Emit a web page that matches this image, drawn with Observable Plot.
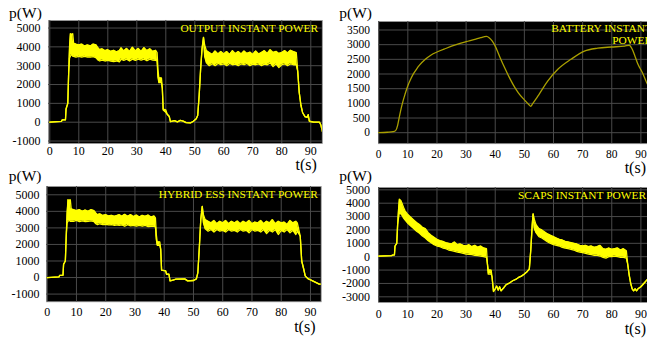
<!DOCTYPE html>
<html>
<head>
<meta charset="utf-8">
<script src="https://cdn.jsdelivr.net/npm/d3@7"></script>
<script src="https://cdn.jsdelivr.net/npm/@observablehq/plot@0.6"></script>
<style>
  html, body { margin: 0; padding: 0; background: #fff; }
  #root { position: relative; width: 647px; height: 339px; overflow: hidden; background: #fff; }
  #root svg { position: absolute; max-width: none; }
</style>
</head>
<body>
<div id="root"></div>
<script>
// ---------- data ----------
const xTicks = [0, 10, 20, 30, 40, 50, 60, 70, 80, 90];
const yTicksOut = [-1000, 0, 1000, 2000, 3000, 4000, 5000];
const yTicksBat = [0, 500, 1000, 1500, 2000, 2500, 3000, 3500];
const yTicksEss = [-1000, 0, 1000, 2000, 3000, 4000, 5000];
const yTicksCap = [-3000, -2000, -1000, 0, 1000, 2000, 3000, 4000, 5000];

const titleOut = "OUTPUT INSTANT POWER";
const titleBat = "BATTERY INSTANT\nPOWER";
const titleEss = "HYBRID ESS INSTANT POWER";
const titleCap = "SCAPS INSTANT POWER";
const yLabel = "p(W)";
const xLabel = "t(s)";

// OUTPUT INSTANT POWER : time, lower envelope, upper envelope
const outT  = [0,4,4.3,5.4,5.6,6.2,6.5,6.8,7.1,7.5,7.9,8.2,9,10,11,12,13,14,15,16,16.6,17.2,18,19,20,21,22,23,24,24.6,25.5,26.5,27.5,28.5,29.5,30.5,31.5,32.5,33.5,34.5,35.5,36.5,37,37.3,37.6,38.5,38.8,39.1,40,40.5,41.2,41.6,43,44,45,46,47,48.5,49.5,50.5,51,51.5,52,52.5,53,53.4,54,55,56,57,58,59,60,61,62,63,64,65,66,67,68,69,70,71,72,73,74,75,76,77,78,79,80,81,82,83,84,85,85.5,86,86.6,87.2,88,88.7,89.1,89.5,91,93,93.5,94];
const outLo = [0,40,120,130,700,1000,2600,3400,3500,3600,3500,3500,3450,3500,3450,3500,3450,3450,3480,3420,3300,3250,3300,3250,3280,3250,3220,3250,3200,3350,3280,3350,3250,3350,3280,3350,3300,3350,3260,3350,3300,3280,3250,2400,2100,2100,1800,650,520,420,300,30,80,20,100,60,-20,-40,50,180,350,1400,2800,3900,4500,3500,3150,3000,3100,3000,3120,3050,3100,3000,3120,3050,3080,3000,3100,3050,3120,3000,3080,3050,3100,3000,3080,3050,3150,2950,3100,2900,3050,3100,3000,3100,3050,3050,2700,1600,900,500,300,250,400,50,0,0,-150,-500];
const outHi = [0,40,120,130,700,1000,2600,4000,4700,4650,4700,4200,4150,4100,4150,4050,4100,4050,4150,4100,3950,3850,3900,3800,3850,3760,3820,3740,3800,3950,3780,3920,3760,3980,3780,3920,3760,3960,3800,3900,3760,3820,3700,2800,2350,2350,1800,700,650,420,300,30,80,20,100,60,-20,-40,50,180,350,1400,2800,3900,4500,4100,3800,3700,3600,3780,3620,3760,3620,3750,3600,3800,3640,3750,3620,3780,3650,3720,3600,3780,3620,3700,3800,3650,3850,3700,3760,3650,3700,3800,3680,3820,3750,3700,2700,1600,900,500,300,250,400,50,0,0,-150,-500];

// BATTERY INSTANT POWER : time, value
const batT = [0,3,5,5.8,6.5,7,8,9,10,11,12,13,14,16,18,20,23,26.6,30,33,35,37,38,39,40,41.5,43.2,45,46.6,48,50,51.5,52.2,52.8,54,55,58,61.5,66,70.6,75.2,79.8,84.4,86,87,88,89,90.5,92,94,96];
const batP = [0,15,35,70,250,500,950,1300,1600,1830,2020,2170,2300,2500,2650,2750,2870,3000,3100,3180,3240,3280,3230,3120,2950,2600,2220,1850,1560,1350,1120,960,900,980,1150,1300,1760,2160,2500,2780,2880,2920,2950,2980,2850,2600,2330,2050,1700,1350,1000];

// HYBRID ESS INSTANT POWER : time, lower envelope, upper envelope
const essT  = [0,4,4.3,5.4,5.6,6.2,6.5,6.8,7.1,7.5,7.9,8.2,9,10,11,12,13,14,15,16,16.6,17.2,18,19,20,21,22,23,24,24.6,25.5,26.5,27.5,28.5,29.5,30.5,31.5,32.5,33.5,34.5,35.5,36.5,37,37.3,37.6,38.5,38.8,39.1,40.5,40.8,41.6,42,43,44,47,48,50,51,51.5,52,52.5,53,53.4,54,55,56,57,58,59,60,61,62,63,64,65,66,67,68,69,70,71,72,73,74,75,76,77,78,79,80,81,82,83,84,85,85.5,86.5,87,87.7,88.2,89,89.5,93,94];
const essLo = [0,40,130,140,800,1000,2500,3300,3400,3450,3400,3400,3400,3450,3380,3420,3380,3400,3420,3380,3250,3200,3250,3200,3220,3180,3200,3150,3180,3150,3180,3100,3200,3120,3150,3100,3150,3100,3150,3080,3100,3100,3050,2300,1950,1950,1700,450,400,200,200,-200,-150,-100,-80,-200,-180,-80,300,1800,3500,4300,3300,2950,2800,2900,2750,2900,2800,2850,2750,2900,2800,2850,2750,2900,2800,2850,2700,2900,2800,2850,2750,2900,2650,2850,2750,2900,2600,2850,2750,2900,2700,2850,2600,2800,2500,1000,500,100,-50,-100,-400,-400,-700];
const essHi = [0,40,130,140,800,1000,2500,3900,4700,4650,4700,4150,4100,4050,4100,4000,4080,4000,4100,4050,3900,3800,3850,3750,3800,3720,3760,3700,3760,3800,3700,3820,3700,3800,3680,3780,3650,3760,3700,3780,3650,3720,3600,2600,2150,2150,1700,450,400,200,200,-200,-150,-100,-80,-200,-180,-80,300,1800,3500,4300,3800,3500,3400,3300,3450,3250,3400,3300,3450,3250,3400,3300,3420,3250,3400,3300,3450,3250,3350,3300,3450,3250,3400,3300,3500,3250,3400,3300,3350,3200,3450,3300,3400,3300,2500,1000,500,100,-50,-100,-400,-400,-700];

// SCAPS INSTANT POWER : time, lower envelope, upper envelope
const capT  = [0,4.5,4.7,5.4,5.6,6.2,6.5,6.8,7.1,7.6,8,8.5,9,10,11,12,13,14,15,16,17,18,19,20,21,22,23,24,25,26,27,28,29,30,31,32,33,34,35,36,37,37.3,37.6,38.6,38.9,39.4,40,40.5,41,41.5,42,43,43.7,45,46,47,48,49,50,51,51.7,52.2,52.7,53,53.4,54,55,56,57,58,59,60,61,62,63,64,65,66,67,68,69,70,71,72,73,74,75,76,77,78,79,80,81,82,83,84,85,85.5,86,86.5,87,87.5,88,88.5,89,90,91,92,93.5];
const capLo = [50,80,120,130,800,1000,2400,2900,3300,3200,3100,2900,2750,2500,2300,2100,1900,1750,1550,1400,1200,1050,900,800,750,650,600,500,450,400,350,300,250,200,180,150,100,80,50,0,-50,-500,-1300,-1300,-1500,-2600,-2400,-2200,-2500,-2250,-2550,-2300,-2100,-1950,-1800,-1700,-1550,-1450,-1300,-1100,-920,500,2400,3200,2100,1800,1500,1400,1250,1100,1000,900,850,800,700,650,600,550,500,400,350,300,250,200,150,100,100,50,-50,-100,0,0,50,0,-50,-50,-100,-600,-1400,-2000,-2400,-2550,-2400,-2550,-2400,-2250,-2000,-1750,-1500];
const capHi = [50,80,120,130,800,1000,2400,3500,4300,4200,4000,3700,3450,3150,2950,2750,2550,2400,2200,2100,1800,1600,1450,1300,1200,1150,1050,1000,950,1100,900,950,850,800,900,750,850,700,800,650,600,-500,-1000,-1000,-1500,-2600,-2400,-2200,-2500,-2250,-2550,-2300,-2100,-1950,-1800,-1700,-1550,-1450,-1300,-1100,-920,500,2400,3200,2800,2400,2100,2000,1850,1700,1600,1500,1400,1300,1250,1150,1100,1050,1000,950,850,800,850,750,800,700,750,850,600,550,650,550,600,650,500,600,450,-600,-1400,-2000,-2400,-2550,-2400,-2550,-2400,-2250,-2000,-1750,-1500];

// ---------- drawing ----------
const YELLOW = "#ffff00";
const FONT = "Liberation Serif, Times New Roman, serif";
const ML = 46, MR = 8, MT = 22, MB = 36;
const root = document.getElementById("root");

function panel(cfg) {
  const fw = cfg.R - cfg.L, fh = cfg.B - cfg.T;
  const kx = cfg.kx, ky = cfg.ky;
  const xd = [(cfg.L - cfg.x0) / kx, (cfg.R - cfg.x0) / kx];
  const yd = [(cfg.y0 - cfg.B) / ky, (cfg.y0 - cfg.T) / ky];
  const marks = [
    Plot.frame({fill: "black", stroke: "#9a9a9a", strokeWidth: 0.8}),
    Plot.gridX(xTicks, {stroke: "#4a4a4a", strokeOpacity: 1, strokeWidth: 1}),
    Plot.gridY(cfg.yticks, {stroke: "#4a4a4a", strokeOpacity: 1, strokeWidth: 1}),
    ...cfg.series,
    Plot.text([cfg.title], {frameAnchor: "top-right", textAnchor: "end", lineAnchor: "bottom",
      dx: cfg.titleDx, dy: cfg.titleDy, fill: YELLOW, fontSize: 11.4, fontFamily: FONT, lineHeight: 1.12}),
    Plot.text([yLabel], {frameAnchor: "top-left", textAnchor: "start", lineAnchor: "bottom",
      dx: cfg.pDx, dy: cfg.pDy, fill: "black", fontSize: 15.5, fontFamily: FONT}),
    Plot.text([xLabel], {frameAnchor: "bottom-right", textAnchor: "end", lineAnchor: "bottom",
      dx: cfg.tDx, dy: cfg.tDy, fill: "black", fontSize: 16, fontFamily: FONT})
  ];
  const svg = Plot.plot({
    width: fw + ML + MR,
    height: fh + MT + MB,
    marginLeft: ML, marginRight: MR, marginTop: MT, marginBottom: MB,
    style: {background: "transparent", fontFamily: FONT, fontSize: cfg.tickFont + "px", color: "black", overflow: "visible"},
    x: {domain: xd, ticks: xTicks, tickSize: 0, tickPadding: cfg.xpad, label: null, tickFormat: d => String(d)},
    y: {domain: yd, ticks: cfg.yticks, tickSize: 0, tickPadding: cfg.ypad, label: null, tickFormat: d => String(d)},
    marks
  });
  svg.style.left = (cfg.L - ML) + "px";
  svg.style.top = (cfg.T - MT) + "px";
  root.appendChild(svg);
}

function bandMarks(T, LO, HI) {
  const data = T.map((t, i) => ({t, lo: LO[i], hi: HI[i]}));
  return [
    Plot.areaY(data, {x: "t", y1: "lo", y2: "hi", fill: YELLOW, clip: true}),
    Plot.lineY(data, {x: "t", y: "lo", stroke: YELLOW, strokeWidth: 1.3, clip: true}),
    Plot.lineY(data, {x: "t", y: "hi", stroke: YELLOW, strokeWidth: 1.3, clip: true})
  ];
}

// OUTPUT (top-left)
panel({L: 47.7, R: 321.5, T: 20, B: 143, x0: 49, kx: 2.9, y0: 121.7, ky: 0.018833,
  yticks: yTicksOut, xpad: 3, ypad: 8, tickFont: 12,
  title: titleOut, titleDx: -4.2, titleDy: 11.7,
  pDx: -39.4, pDy: -2.7, tDx: -5.5, tDy: 27,
  series: bandMarks(outT, outLo, outHi)});

// BATTERY (top-right)
panel({L: 377.5, R: 660, T: 20.5, B: 142.7, x0: 377.7, kx: 2.9133, y0: 131.7, ky: 0.029343,
  yticks: yTicksBat, xpad: 6, ypad: 8.5, tickFont: 11.5,
  title: titleBat, titleDx: -9, titleDy: 22.8,
  pDx: -39.2, pDy: -3, tDx: -15, tDy: 29.5,
  series: [Plot.lineY(batT.map((t, i) => ({t, p: batP[i]})), {x: "t", y: "p", stroke: "#aaa000", strokeWidth: 1.3, curve: "monotone-x", clip: true})]});

// HYBRID ESS (bottom-left)
panel({L: 46, R: 320.7, T: 185.7, B: 301, x0: 46.7, kx: 2.9256, y0: 276.75, ky: 0.01655,
  yticks: yTicksEss, xpad: 6, ypad: 7, tickFont: 12,
  title: titleEss, titleDx: -3.4, titleDy: 11.6,
  pDx: -37.7, pDy: -5.7, tDx: -5.7, tDy: 30,
  series: bandMarks(essT, essLo, essHi)});

// SCAPS (bottom-right)
panel({L: 377.5, R: 650, T: 186.7, B: 301.7, x0: 377.7, kx: 2.9133, y0: 255.9, ky: 0.013375,
  yticks: yTicksCap, xpad: 6.5, ypad: 8.4, tickFont: 12,
  title: titleCap, titleDx: -5, titleDy: 11.6,
  pDx: -39.2, pDy: -6.7, tDx: -5, tDy: 31.3,
  series: bandMarks(capT, capLo, capHi)});
</script>
</body>
</html>
